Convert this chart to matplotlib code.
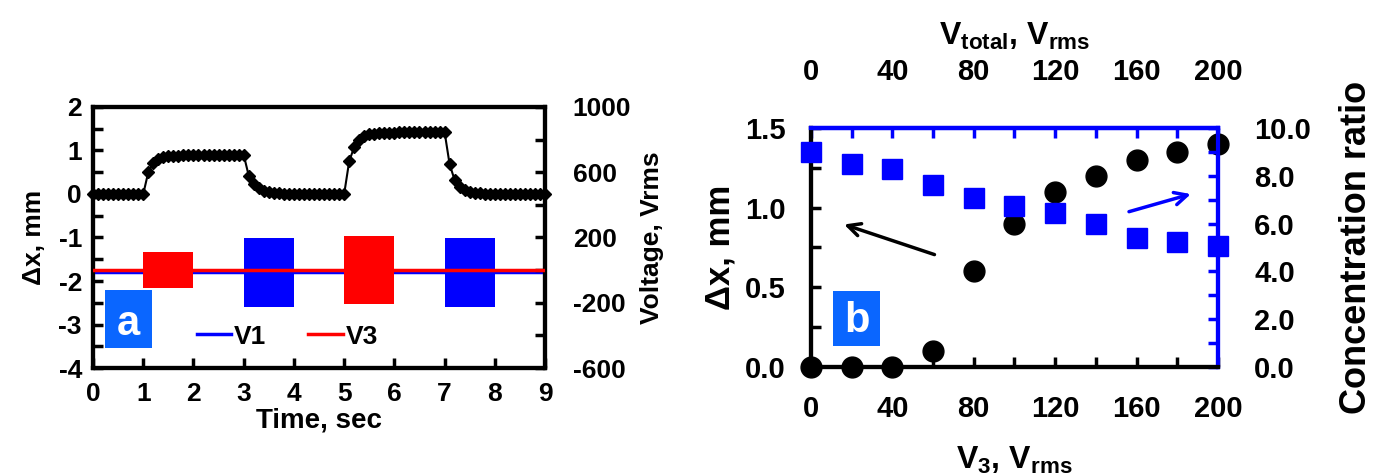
import numpy as np
import matplotlib.pyplot as plt
from matplotlib.ticker import MultipleLocator, FormatStrFormatter
from matplotlib.patches import Rectangle

plt.rcParams['font.family'] = ['Liberation Sans', 'DejaVu Sans']
plt.rcParams['font.weight'] = 'bold'
plt.rcParams['axes.labelweight'] = 'bold'
plt.rcParams['axes.unicode_minus'] = False
plt.rcParams['mathtext.fontset'] = 'custom'
plt.rcParams['mathtext.rm'] = 'Liberation Sans:bold'
plt.rcParams['mathtext.it'] = 'Liberation Sans:bold'
plt.rcParams['mathtext.bf'] = 'Liberation Sans:bold'

# ---- panel a : displacement vs time (sampled every 0.1 s) ----
time = np.round(np.arange(91) * 0.1, 1)
dx = [0.00, 0.00, 0.00, 0.00, 0.00, 0.00, 0.00, 0.00, 0.00, 0.00,
      0.00, 0.50, 0.71, 0.80, 0.85, 0.87, 0.88, 0.88, 0.89, 0.89,
      0.89, 0.89, 0.89, 0.90, 0.90, 0.90, 0.90, 0.90, 0.90, 0.90,
      0.90, 0.42, 0.24, 0.13, 0.08, 0.05, 0.03, 0.02, 0.01, 0.01,
      0.00, 0.00, 0.00, 0.00, 0.00, 0.00, 0.00, 0.00, 0.00, 0.00,
      0.00, 0.75, 1.08, 1.25, 1.33, 1.37, 1.39, 1.40, 1.41, 1.41,
      1.41, 1.42, 1.42, 1.42, 1.42, 1.42, 1.42, 1.42, 1.42, 1.42,
      1.42, 0.68, 0.32, 0.16, 0.09, 0.05, 0.03, 0.02, 0.01, 0.01,
      0.00, 0.00, 0.00, 0.00, 0.00, 0.00, 0.00, 0.00, 0.00, 0.00,
      0.00]

# voltage bursts (start s, end s, peak amplitude V)
v1_start = [3.0, 7.0]
v1_end = [4.0, 8.0]
v1_amp = [210, 210]
v3_start = [1.0, 5.0]
v3_end = [2.0, 6.0]
v3_amp = [110, 210]
v1_base = -14
v3_base = 2

# ---- panel b ----
v3 = [0, 20, 40, 60, 80, 100, 120, 140, 160, 180, 200]
dx_b = [0.0, 0.0, 0.0, 0.1, 0.6, 0.9, 1.1, 1.2, 1.3, 1.35, 1.4]
conc = [9.0, 8.5, 8.3, 7.6, 7.05, 6.75, 6.45, 6.0, 5.4, 5.25, 5.05]

BLUE = '#0000ff'
BOXBLUE = '#0a66ff'
LW = 3
FA = 19     # panel a text
FB = 21     # panel b tick labels
FBL = 25    # panel b axis labels

fig = plt.figure(figsize=(13.74, 4.74), dpi=100)

# ================= panel a =================
ax = fig.add_axes([0.0677, 0.2236, 0.329, 0.5507])
ax.plot(time, dx, color='k', lw=1.5, marker='D', ms=6, clip_on=False, zorder=5)
ax.set_xlim(0, 9)
ax.set_ylim(-4, 2)
ax.set_xticks(range(10))
ax.set_yticks(range(-4, 3))
ax.yaxis.set_minor_locator(MultipleLocator(0.5))
ax.tick_params(axis='both', which='both', direction='in', length=7, width=2.5,
               labelsize=FA, top=False, right=False)
ax.tick_params(axis='x', pad=10)
ax.tick_params(axis='y', pad=8)
ax.set_xlabel('Time, sec', fontsize=FA + 1, labelpad=1)
ax.set_ylabel('Δx, mm', fontsize=FA, labelpad=9)
for s in ax.spines.values():
    s.set_linewidth(LW)

ax2 = ax.twinx()
ax2.set_ylim(-600, 1000)
ax2.set_yticks([-600, -200, 200, 600, 1000])
ax2.yaxis.set_minor_locator(MultipleLocator(200))
ax2.tick_params(axis='y', which='both', direction='in', length=7, width=2.5,
                labelsize=FA, pad=20)
ax2.set_ylabel('Voltage, Vrms', fontsize=FA, labelpad=6)
for s in ax2.spines.values():
    s.set_linewidth(LW)

l1, = ax2.plot([0, 9], [v1_base, v1_base], color=BLUE, lw=2.5, label='V1', zorder=1)
ax2.bar(v1_start, [2 * a for a in v1_amp], width=np.subtract(v1_end, v1_start),
        bottom=[v1_base - a for a in v1_amp], align='edge', color=BLUE, zorder=2)
ax2.bar(v3_start, [2 * a for a in v3_amp], width=np.subtract(v3_end, v3_start),
        bottom=[v3_base - a for a in v3_amp], align='edge', color='#ff0000', zorder=3)
l3, = ax2.plot([0, 9], [v3_base, v3_base], color='#ff0000', lw=2.5, label='V3', zorder=4)
ax2.legend(handles=[l1, l3], loc='center', bbox_to_anchor=(0.43, 0.12), ncol=2,
           frameon=False, fontsize=FA, handlelength=1.3, handletextpad=0.1,
           columnspacing=1.6, borderaxespad=0)

ax2.add_patch(Rectangle((0.027, 0.077), 0.104, 0.222, transform=ax2.transAxes,
                        facecolor=BOXBLUE, edgecolor='none', zorder=6))
ax2.text(0.079, 0.126, 'a', transform=ax2.transAxes, ha='center', va='baseline',
         color='white', fontsize=30, zorder=7)

# ================= panel b =================
bx = fig.add_axes([0.5902, 0.2257, 0.2962, 0.5043])
bx.plot(v3, dx_b, 'o', color='k', ms=15, clip_on=False, zorder=5)
bx.set_xlim(0, 200)
bx.set_ylim(0, 1.5)
bx.set_xticks(range(0, 201, 40))
bx.xaxis.set_minor_locator(MultipleLocator(20))
bx.set_yticks([0, 0.5, 1.0, 1.5])
bx.yaxis.set_minor_locator(MultipleLocator(0.25))
bx.yaxis.set_major_formatter(FormatStrFormatter('%.1f'))
bx.tick_params(axis='both', which='both', direction='in', length=7, width=2.5,
               labelsize=FB, top=False, right=False)
bx.tick_params(axis='x', pad=20)
bx.tick_params(axis='y', pad=18)
bx.set_xlabel(r'V$_{3}$, V$_{rms}$', fontsize=FBL - 2, labelpad=16)
bx.set_ylabel('Δx, mm', fontsize=FBL, labelpad=6)
for k, s in bx.spines.items():
    s.set_linewidth(LW)
    s.set_color(BLUE if k in ('top', 'right') else 'k')

top = bx.secondary_xaxis('top')
top.set_xticks(range(0, 201, 40))
top.xaxis.set_minor_locator(MultipleLocator(20))
top.tick_params(axis='x', which='both', direction='in', length=7, width=2.5,
                labelsize=FB, pad=30, color=BLUE)
top.set_xlabel(r'V$_{total}$, V$_{rms}$', fontsize=FBL - 2, labelpad=10)
top.spines['top'].set_color(BLUE)
top.spines['top'].set_linewidth(LW)

bx2 = bx.twinx()
bx2.plot(v3, conc, 's', color=BLUE, ms=14, clip_on=False, zorder=5)
bx2.set_ylim(0, 10)
bx2.set_yticks(range(0, 11, 2))
bx2.yaxis.set_minor_locator(MultipleLocator(1))
bx2.yaxis.set_major_formatter(FormatStrFormatter('%.1f'))
bx2.tick_params(axis='y', which='both', direction='in', length=7, width=2.5,
                labelsize=FB, pad=26, color=BLUE)
bx2.set_ylabel('Concentration ratio', fontsize=FBL + 1, labelpad=20)
for k, s in bx2.spines.items():
    s.set_linewidth(LW)
    s.set_color(BLUE if k in ('top', 'right') else 'k')

bx.annotate('', xy=(15, 0.9), xytext=(62, 0.7),
            arrowprops=dict(arrowstyle='->,head_length=0.9,head_width=0.45',
                            color='k', lw=2.5))
bx.annotate('', xy=(188, 1.09), xytext=(155, 0.97),
            arrowprops=dict(arrowstyle='->,head_length=0.9,head_width=0.45',
                            color=BLUE, lw=2.5))

bx2.add_patch(Rectangle((0.054, 0.09), 0.115, 0.23, transform=bx2.transAxes,
                        facecolor=BOXBLUE, edgecolor='none', zorder=6))
bx2.text(0.112, 0.145, 'b', transform=bx2.transAxes, ha='center', va='baseline',
         color='white', fontsize=30, zorder=7)

fig.savefig('out.png', dpi=100)
